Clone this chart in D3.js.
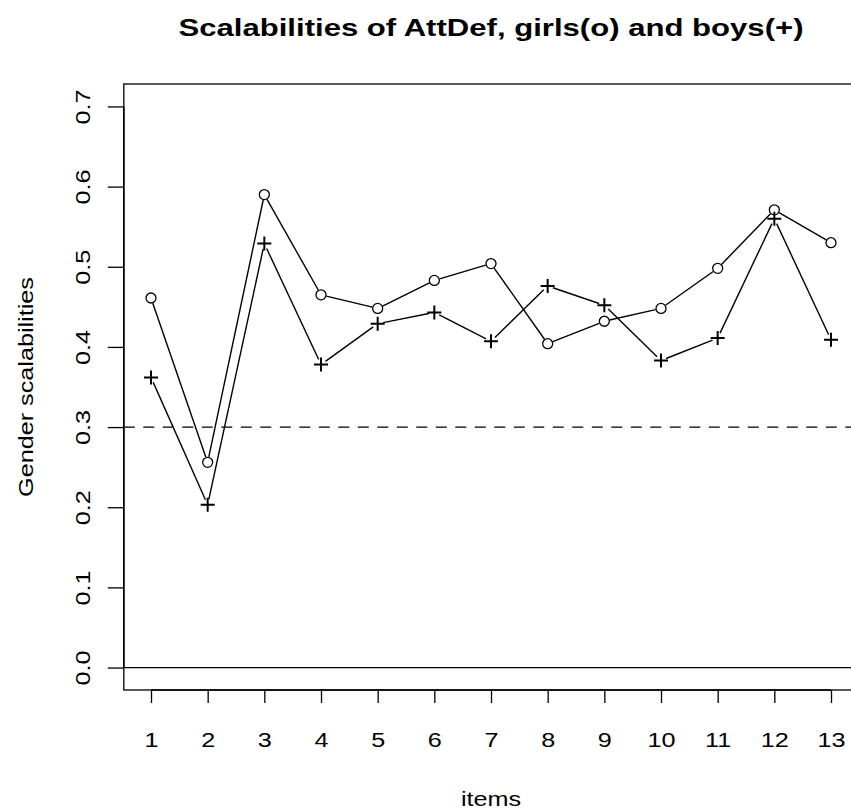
<!DOCTYPE html>
<html>
<head>
<meta charset="utf-8">
<script src="https://cdn.jsdelivr.net/npm/d3@7"></script>
<style>
  body { margin: 0; background: #fff; }
  svg { display: block; font-family: "Liberation Sans", Arial, sans-serif; }
</style>
</head>
<body>
<svg id="chart" width="851" height="810"></svg>
<script>
// item scalabilities
const items = [1, 2, 3, 4, 5, 6, 7, 8, 9, 10, 11, 12, 13];
const girls = [0.461, 0.256, 0.590, 0.465, 0.448, 0.483, 0.504, 0.404, 0.432, 0.448, 0.498, 0.571, 0.530];
const boys = [0.362, 0.203, 0.529, 0.378, 0.429, 0.443, 0.407, 0.476, 0.452, 0.383, 0.411, 0.560, 0.409];
const yTicks = [0, 0.1, 0.2, 0.3, 0.4, 0.5, 0.6, 0.7];
const refLines = [0, 0.3]; // solid at 0, dashed at 0.3

const FONT = 21;
const STRETCH = 1.2; // the original text is wider than Liberation Sans

const svg = d3.select("#chart");

// R style 4% padding on both axes
const x = d3.scaleLinear().domain([0.52, 13.48]).range([123.8, 858.2]);
const y = d3.scaleLinear().domain([-0.028, 0.728]).range([690, 84]);

svg.append("defs").append("clipPath").attr("id", "plotclip")
  .append("rect")
  .attr("x", x.range()[0]).attr("y", y.range()[1])
  .attr("width", x.range()[1] - x.range()[0])
  .attr("height", y.range()[0] - y.range()[1]);

const plot = svg.append("g").attr("clip-path", "url(#plotclip)");

plot.selectAll("line.ref")
  .data(refLines)
  .join("line")
  .attr("class", "ref")
  .attr("x1", x.range()[0]).attr("x2", x.range()[1])
  .attr("y1", d => y(d)).attr("y2", d => y(d))
  .attr("stroke", "#000")
  .attr("stroke-width", 1.2)
  .attr("stroke-dasharray", d => (d === 0 ? null : "11,8.5"));

// type="b": segments with a gap around each point
const GAP = 5.5;
function drawSeries(values) {
  const pts = values.map((v, i) => [x(items[i]), y(v)]);
  const segs = [];
  for (let i = 0; i < pts.length - 1; i++) {
    const [x1, y1] = pts[i], [x2, y2] = pts[i + 1];
    const len = Math.hypot(x2 - x1, y2 - y1);
    if (len <= 2 * GAP) continue;
    const ux = (x2 - x1) / len, uy = (y2 - y1) / len;
    segs.push([x1 + ux * GAP, y1 + uy * GAP, x2 - ux * GAP, y2 - uy * GAP]);
  }
  plot.append("g").selectAll("line")
    .data(segs)
    .join("line")
    .attr("x1", d => d[0]).attr("y1", d => d[1])
    .attr("x2", d => d[2]).attr("y2", d => d[3])
    .attr("stroke", "#000")
    .attr("stroke-width", 1.4);
  return pts;
}

const gPts = drawSeries(girls);
const bPts = drawSeries(boys);

plot.append("g").selectAll("circle")
  .data(gPts)
  .join("circle")
  .attr("cx", d => d[0]).attr("cy", d => d[1])
  .attr("r", 5)
  .attr("fill", "none")
  .attr("stroke", "#000")
  .attr("stroke-width", 1.3);

plot.append("g").selectAll("path")
  .data(bPts)
  .join("path")
  .attr("d", d => `M${d[0] - 7},${d[1]}H${d[0] + 7}M${d[0]},${d[1] - 7}V${d[1] + 7}`)
  .attr("stroke", "#000")
  .attr("stroke-width", 2);

// plot box (right edge falls outside the picture)
svg.append("rect")
  .attr("x", x.range()[0]).attr("y", y.range()[1])
  .attr("width", x.range()[1] - x.range()[0])
  .attr("height", y.range()[0] - y.range()[1])
  .attr("fill", "none")
  .attr("stroke", "#222")
  .attr("stroke-width", 1.5);

// bottom axis
const xAxis = svg.append("g")
  .attr("transform", `translate(0,${y.range()[0]})`)
  .call(d3.axisBottom(x).tickValues(items).tickFormat(d3.format("d")).tickSize(13).tickSizeOuter(0));
xAxis.select(".domain").attr("d", `M${x(1)},0H${x(13)}`).attr("stroke", "#000").attr("stroke-width", 1.5);
xAxis.selectAll(".tick line").attr("stroke", "#000").attr("stroke-width", 1.3);
xAxis.selectAll(".tick text")
  .attr("y", null).attr("dy", null)
  .attr("transform", `translate(0,57) scale(${STRETCH},1)`)
  .attr("font-size", FONT).attr("font-family", "Liberation Sans, Arial, sans-serif")
  .attr("fill", "#000");

// left axis, labels parallel to the axis
const yAxis = svg.append("g")
  .attr("transform", `translate(${x.range()[0]},0)`)
  .call(d3.axisLeft(y).tickValues(yTicks).tickFormat(d3.format(".1f")).tickSize(16).tickSizeOuter(0));
yAxis.select(".domain").attr("d", `M0,${y(0)}V${y(0.7)}`).attr("stroke", "#000").attr("stroke-width", 1.5);
yAxis.selectAll(".tick line").attr("stroke", "#000").attr("stroke-width", 1.3);
yAxis.selectAll(".tick text")
  .attr("x", null).attr("dy", null)
  .attr("transform", `translate(-34,0) rotate(-90) scale(${STRETCH},1)`)
  .attr("text-anchor", "middle")
  .attr("font-size", FONT).attr("font-family", "Liberation Sans, Arial, sans-serif")
  .attr("fill", "#000");

const cx = (x.range()[0] + x.range()[1]) / 2;

// titles
svg.append("text")
  .attr("x", cx).attr("y", 36)
  .attr("text-anchor", "middle")
  .attr("font-size", 24).attr("font-weight", "bold")
  .attr("textLength", 625).attr("lengthAdjust", "spacingAndGlyphs")
  .text("Scalabilities of AttDef, girls(o) and boys(+)");

svg.append("text")
  .attr("transform", `translate(${cx},806) scale(${STRETCH},1)`)
  .attr("text-anchor", "middle")
  .attr("font-size", FONT)
  .text("items");

svg.append("text")
  .attr("transform", `translate(33,${(y.range()[0] + y.range()[1]) / 2}) rotate(-90) scale(${STRETCH},1)`)
  .attr("text-anchor", "middle")
  .attr("font-size", FONT)
  .text("Gender scalabilities");
</script>
</body>
</html>
